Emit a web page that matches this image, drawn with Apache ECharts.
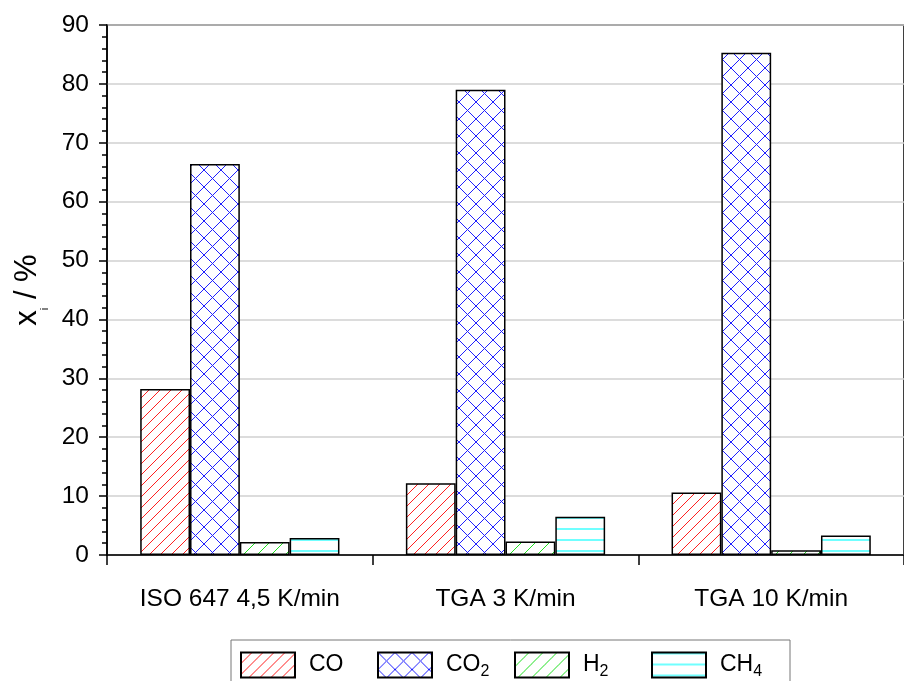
<!DOCTYPE html>
<html>
<head>
<meta charset="utf-8">
<script src="https://cdn.jsdelivr.net/npm/echarts@6/dist/echarts.min.js"></script>
<style>
html,body{margin:0;padding:0;background:#fff;}
#chart{width:904px;height:681px;}
</style>
</head>
<body>
<div id="chart"></div>
<script>
// ---- data ----
const categories = ['ISO 647 4,5 K/min', 'TGA 3 K/min', 'TGA 10 K/min'];
const seriesNames = ['CO', 'CO2', 'H2', 'CH4'];
const coValues  = [28.2, 12.2, 10.6];
const co2Values = [66.4, 79.0, 85.3];
const h2Values  = [2.2, 2.3, 0.8];
const ch4Values = [2.9, 6.5, 3.3];
const yMin = 0, yMax = 90, yStep = 10;

// ---- hatch patterns (pixel-drawn, aliased like the original) ----
function makeDiag(p, color, both) {
  const c = document.createElement('canvas');
  c.width = p; c.height = p;
  const g = c.getContext('2d');
  g.fillStyle = '#fff'; g.fillRect(0, 0, p, p);
  g.fillStyle = color;
  for (let i = 0; i < p; i++) {
    g.fillRect(i, p - 1 - i, 1, 1);
    if (both) g.fillRect(i, i, 1, 1);
  }
  return { image: c, repeat: 'repeat' };
}
function makeHoriz(p, color, w) {
  const c = document.createElement('canvas');
  c.width = 8; c.height = p;
  const g = c.getContext('2d');
  g.fillStyle = '#fff'; g.fillRect(0, 0, 8, p);
  g.fillStyle = color; g.fillRect(0, 0, 8, w);
  return { image: c, repeat: 'repeat' };
}
const fills = [
  makeDiag(11, '#ff2020', false),
  makeDiag(17, '#2020ff', true),
  makeDiag(14, '#20e020', false),
  makeHoriz(11, '#70ffff', 2)
];
const valueSets = [coValues, co2Values, h2Values, ch4Values];

const font = '"Liberation Sans", Arial, sans-serif';
const legendRich = { s: { fontSize: 16, lineHeight: 16, verticalAlign: 'bottom', fontFamily: font, color: '#000' } };
const nameRich = {
  n: { fontSize: 31, lineHeight: 31, verticalAlign: 'top', fontFamily: font, color: '#000' },
  s: { fontSize: 11, lineHeight: 10, padding: [28, 0, 0, 0], verticalAlign: 'top', fontFamily: font, color: '#000' }
};

const chart = echarts.init(document.getElementById('chart'), null, { renderer: 'canvas' });
chart.setOption({
  animation: false,
  backgroundColor: '#fff',
  textStyle: { fontFamily: font, color: '#000' },
  grid: {
    left: 107, top: 25, width: 803, height: 530,
    show: true, borderColor: '#000', borderWidth: 1.5, backgroundColor: 'transparent'
  },
  legend: {
    left: 231, top: 640,
    orient: 'horizontal',
    icon: 'rect',
    itemWidth: 54, itemHeight: 25, itemGap: 8,
    padding: [10, 10, 10, 9],
    borderColor: '#777', borderWidth: 1,
    data: seriesNames,
    formatter: n => n.replace(/(\d)/, '{s|$1}'),
    textStyle: {
      fontSize: 23, lineHeight: 30, color: '#000', fontFamily: font,
      width: 60, padding: [0, 0, 0, 9],
      rich: legendRich
    }
  },
  xAxis: {
    type: 'category',
    data: categories,
    axisLine: { lineStyle: { color: '#000', width: 1.5 } },
    axisTick: { show: true, length: 10, interval: 0, lineStyle: { color: '#000', width: 1.5 } },
    axisLabel: { fontSize: 24.5, color: '#000', margin: 32, fontFamily: font, interval: 0 },
    splitLine: { show: false }
  },
  yAxis: {
    type: 'value',
    min: yMin, max: yMax, interval: yStep,
    name: '{n|x}{s|i}{n| / %}',
    nameLocation: 'middle',
    nameGap: 60,
    nameRotate: 90,
    nameTextStyle: { fontSize: 31, color: '#000', fontFamily: font, rich: nameRich },
    axisLine: { show: true, lineStyle: { color: '#000', width: 1.5 } },
    axisTick: { show: true, length: 8, lineStyle: { color: '#000', width: 1.5 } },
    minorTick: { show: true, splitNumber: 5, length: 5, lineStyle: { color: '#000', width: 1.5 } },
    axisLabel: { fontSize: 24.5, color: '#000', margin: 18, fontFamily: font },
    splitLine: { show: true, lineStyle: { color: '#d0d0d0', width: 1.5 } }
  },
  series: seriesNames.map((name, i) => ({
    name: name,
    type: 'bar',
    data: valueSets[i],
    barGap: '0%',
    barCategoryGap: '25%',
    itemStyle: { color: fills[i], borderColor: '#000', borderWidth: 1.5 },
    emphasis: { disabled: true }
  }))
});
</script>
</body>
</html>
